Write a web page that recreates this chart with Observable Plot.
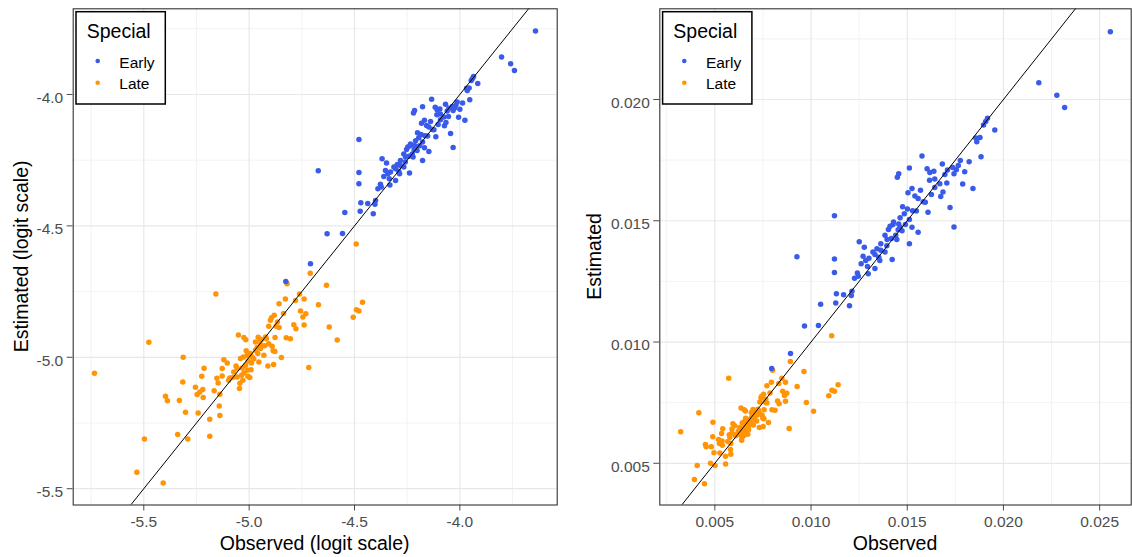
<!DOCTYPE html>
<html><head><meta charset="utf-8">
<script src="https://cdn.jsdelivr.net/npm/d3@7"></script>
<script src="https://cdn.jsdelivr.net/npm/@observablehq/plot@0.6"></script>
<style>
html,body{margin:0;padding:0;background:#fff;}
#wrap{display:flex;width:1132px;height:557px;overflow:hidden;}
svg{display:block;}
</style></head><body><div id="wrap"></div>
<script>
const groups = ["Early", "Late"];
const groupColors = ["#3a5be9", "#ff9406"];
const legendTitle = "Special";

// values read on the logit scale (left panel); right panel shows the same values as proportions
const earlyObsLogit = [-3.641,-3.802,-3.759,-3.741,-3.935,-3.946,-3.915,-3.968,-3.956,-4.134,-4.177,-4.117,-4.095,-4.068,-4.052,-4.025,-4.013,-3.987,-3.953,-4.215,-4.220,-4.109,-4.076,-4.054,-4.006,-3.976,-4.168,-4.139,-4.182,-4.103,-4.066,-4.147,-4.201,-4.166,-4.153,-4.114,-4.044,-4.479,-4.210,-4.177,-4.191,-4.032,-4.147,-4.253,-4.236,-4.217,-4.266,-4.242,-4.222,-4.369,-4.348,-4.282,-4.259,-4.177,-4.297,-4.305,-4.353,-4.329,-4.286,-4.239,-4.672,-4.479,-4.361,-4.335,-4.305,-4.479,-4.377,-4.389,-4.332,-4.400,-4.470,-4.437,-4.403,-4.546,-4.473,-4.411,-4.630,-4.557,-4.826,-4.709,-4.234,-4.247,-4.203,-4.226,-4.282,-4.266,-4.313,-4.290,-4.195,-4.184,-4.210,-4.168,-4.123,-4.092,-4.073,-4.060,-4.036,-4.019,-3.965,-3.940,-4.108,-4.158,-4.130,-4.215,-4.258,-4.342,-4.373,-4.092,-4.000,-4.032];
const earlyEstLogit = [-3.758,-3.857,-3.883,-3.909,-3.932,-3.947,-3.958,-3.976,-3.975,-4.018,-4.047,-4.049,-4.055,-4.037,-4.052,-4.051,-4.029,-4.032,-4.020,-4.061,-4.070,-4.077,-4.086,-4.084,-4.087,-4.098,-4.098,-4.103,-4.109,-4.114,-4.107,-4.124,-4.146,-4.157,-4.158,-4.161,-4.148,-4.171,-4.176,-4.181,-4.195,-4.202,-4.217,-4.209,-4.195,-4.210,-4.226,-4.235,-4.238,-4.245,-4.261,-4.251,-4.257,-4.251,-4.266,-4.283,-4.289,-4.295,-4.302,-4.299,-4.290,-4.297,-4.312,-4.321,-4.327,-4.340,-4.342,-4.359,-4.344,-4.403,-4.412,-4.415,-4.418,-4.449,-4.444,-4.454,-4.530,-4.529,-4.712,-4.644,-4.188,-4.200,-4.213,-4.226,-4.270,-4.276,-4.276,-4.292,-4.165,-4.152,-4.203,-4.203,-4.134,-4.096,-4.119,-4.063,-4.046,-4.041,-3.985,-3.939,-4.058,-4.118,-4.133,-4.194,-4.238,-4.302,-4.352,-4.074,-4.056,-4.061];
const lateObsLogit = [-4.492,-4.710,-4.820,-4.633,-5.158,-4.761,-4.828,-4.780,-4.739,-4.462,-4.858,-4.671,-4.491,-4.479,-4.506,-4.756,-4.731,-4.745,-4.837,-4.881,-4.894,-4.899,-4.866,-4.907,-4.872,-4.858,-4.788,-4.778,-4.739,-4.620,-4.582,-5.051,-5.025,-5.016,-4.957,-4.941,-4.918,-4.877,-4.824,-4.804,-5.476,-4.946,-4.962,-4.927,-4.891,-4.886,-4.878,-5.014,-4.994,-4.959,-4.978,-4.946,-4.847,-4.717,-5.313,-5.041,-5.005,-4.989,-5.120,-5.104,-5.062,-5.057,-5.033,-5.009,-4.991,-4.911,-4.884,-5.214,-5.128,-5.734,-5.225,-5.153,-5.128,-5.092,-5.078,-5.147,-5.036,-5.025,-5.006,-4.997,-5.030,-5.044,-5.315,-5.255,-5.220,-5.234,-5.247,-5.166,-5.139,-5.046,-5.397,-5.388,-5.331,-5.218,-5.302,-5.242,-5.142,-5.139,-5.187,-5.339,-5.291,-5.187,-5.497,-5.533,-5.408,-4.946,-4.970,-4.986,-5.017,-5.073,-4.930,-4.907,-4.954,-5.028,-5.057,-5.097,-4.922,-4.970,-5.009];
const lateEstLogit = [-4.569,-4.680,-4.720,-4.726,-4.759,-4.759,-4.778,-4.784,-4.778,-4.791,-4.796,-4.800,-4.819,-4.824,-4.848,-4.824,-4.834,-4.847,-4.833,-4.840,-4.850,-4.859,-4.866,-4.882,-4.882,-4.887,-4.876,-4.891,-4.877,-4.885,-4.934,-4.915,-4.925,-4.933,-4.924,-4.932,-4.929,-4.925,-4.926,-4.929,-4.943,-4.951,-4.963,-4.956,-4.958,-4.975,-4.978,-4.975,-4.986,-4.986,-5.006,-4.967,-5.001,-5.039,-5.000,-5.005,-5.014,-5.022,-5.009,-5.022,-5.033,-5.043,-5.041,-5.049,-5.047,-5.033,-5.027,-5.042,-5.043,-5.061,-5.072,-5.080,-5.071,-5.079,-5.077,-5.098,-5.068,-5.060,-5.072,-5.077,-5.087,-5.099,-5.094,-5.114,-5.123,-5.132,-5.142,-5.127,-5.141,-5.119,-5.148,-5.165,-5.164,-5.153,-5.209,-5.212,-5.185,-5.221,-5.236,-5.294,-5.311,-5.300,-5.311,-5.437,-5.478,-4.935,-4.973,-4.999,-5.030,-5.056,-4.992,-4.948,-5.018,-4.999,-5.075,-5.087,-4.923,-4.942,-4.992];

const logitTicks = [-5.5, -5.0, -4.5, -4.0];
const logitMinorX = [-5.75, -5.25, -4.75, -4.25, -3.75];
const logitMinorY = [-5.25, -4.75, -4.25, -3.75];
const propTicksX = [0.005, 0.010, 0.015, 0.020, 0.025];
const propMinorX = [0.0025, 0.0075, 0.0125, 0.0175, 0.0225];
const propTicksY = [0.005, 0.010, 0.015, 0.020];
const propMinorY = [0.0075, 0.0125, 0.0175, 0.0225];

const invLogit = v => 1 / (1 + Math.exp(-v));
const rows = [];
lateObsLogit.forEach((v, i) => rows.push({special: "Late", obsL: v, estL: lateEstLogit[i]}));
earlyObsLogit.forEach((v, i) => rows.push({special: "Early", obsL: v, estL: earlyEstLogit[i]}));
rows.forEach(r => { r.obs = invLogit(r.obsL); r.est = invLogit(r.estL); });

const FONT = '"Liberation Sans", Arial, Helvetica, sans-serif';
const W = 566, H = 557, MT = 8.3, MB = 52.5;

function panel(o) {
  const diag = [Math.min(o.xDom[0], o.yDom[0]), Math.max(o.xDom[1], o.yDom[1])];
  const svg = Plot.plot({
    width: W, height: H,
    marginLeft: o.mL, marginRight: o.mR, marginTop: MT, marginBottom: MB,
    style: {fontFamily: FONT, fontSize: "15.5px", color: "#4d4d4d", background: "white", overflow: "visible"},
    x: {domain: o.xDom, ticks: o.xTicks, tickFormat: o.fmt, tickSize: 6, tickPadding: 5, label: null},
    y: {domain: o.yDom, ticks: o.yTicks, tickFormat: o.fmt, tickSize: 6, tickPadding: 4, label: null},
    color: {domain: groups, range: groupColors},
    marks: [
      Plot.ruleX(o.xMinor, {stroke: "#ebebeb", strokeWidth: 0.6}),
      Plot.ruleY(o.yMinor, {stroke: "#ebebeb", strokeWidth: 0.6}),
      Plot.ruleX(o.xTicks, {stroke: "#e8e8e8", strokeWidth: 1.2}),
      Plot.ruleY(o.yTicks, {stroke: "#e8e8e8", strokeWidth: 1.2}),
      Plot.dot(rows, {x: o.xKey, y: o.yKey, fill: "special", r: 2.75}),
      Plot.line(diag, {x: d => d, y: d => d, stroke: "black", strokeWidth: 1, clip: true}),
      Plot.frame({stroke: "#333333", strokeWidth: 1.1})
    ]
  });
  const s = d3.select(svg);
  s.selectAll('g[aria-label^="x-axis"], g[aria-label^="y-axis"]').attr("font-size", "15.5px");
  s.selectAll('g[aria-label^="x-axis"] text, g[aria-label^="y-axis"] text').attr("font-size", "15.5px");
  s.selectAll('g[aria-label^="y-axis"] text').attr("dy", "0.22em");
  const pl = o.mL, pr = W - o.mR, pt = MT, pb = H - MB;
  s.append("text").attr("x", (pl + pr) / 2).attr("y", 549.5)
    .attr("text-anchor", "middle").attr("font-size", "19.5px").attr("fill", "black")
    .attr("font-family", FONT).text(o.xTitle);
  s.append("text").attr("transform", `translate(${o.yTitleX},${(pt + pb) / 2}) rotate(-90)`)
    .attr("text-anchor", "middle").attr("font-size", "19.5px").attr("fill", "black")
    .attr("font-family", FONT).text(o.yTitle);
  // legend box
  const lx = pl + 3.3;
  const g = s.append("g").attr("font-family", FONT);
  g.append("rect").attr("x", lx).attr("y", 11.7).attr("width", 89.3).attr("height", 92.3)
    .attr("fill", "white").attr("stroke", "black").attr("stroke-width", 1.5);
  g.append("text").attr("x", lx + 10.7).attr("y", 38.3).attr("font-size", "19.5px")
    .attr("text-anchor", "start").attr("fill", "black").text(legendTitle);
  groups.forEach((k, i) => {
    g.append("circle").attr("cx", lx + 21.7).attr("cy", 61 + i * 21.7).attr("r", 2.3).attr("fill", groupColors[i]);
    g.append("text").attr("x", lx + 43.3).attr("y", 67.7 + i * 21.6).attr("font-size", "15.5px")
      .attr("text-anchor", "start").attr("fill", "black").text(k);
  });
  return svg;
}

const wrap = document.getElementById("wrap");
wrap.appendChild(panel({
  xKey: "obsL", yKey: "estL",
  xDom: [-5.835, -3.538], yDom: [-5.562, -3.674],
  xTicks: logitTicks, yTicks: logitTicks, xMinor: logitMinorX, yMinor: logitMinorY,
  fmt: d => d.toFixed(1), mL: 72.7, mR: 9.3,
  xTitle: "Observed (logit scale)", yTitle: "Estimated (logit scale)", yTitleX: 27.5
}));
wrap.appendChild(panel({
  xKey: "obs", yKey: "est",
  xDom: [0.00214, 0.02664], yDom: [0.00328, 0.02374],
  xTicks: propTicksX, yTicks: propTicksY, xMinor: propMinorX, yMinor: propMinorY,
  fmt: d => d.toFixed(3), mL: 93.3, mR: 1.3,
  xTitle: "Observed", yTitle: "Estimated", yTitleX: 34.5
}));
</script></body></html>
